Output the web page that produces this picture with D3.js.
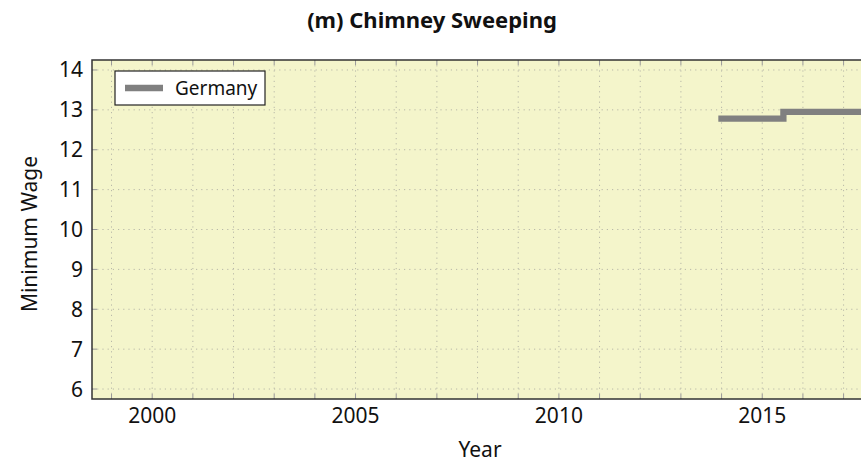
<!DOCTYPE html>
<html>
<head>
<meta charset="utf-8">
<script src="https://cdn.jsdelivr.net/npm/d3@7"></script>
<style>
  body { margin: 0; background: #fff; }
  svg { display: block; overflow: hidden; }
  text { font-family: "Noto Sans", sans-serif; fill: #111; }
</style>
</head>
<body>
<div id="chart"></div>
<script>
// data
const years = [2013.92, 2015.52, 2018.5];
const wages = [12.78, 12.95, 12.95];
const xTicks = [2000, 2005, 2010, 2015];
const yTicks = [6, 7, 8, 9, 10, 11, 12, 13, 14];
const gridYears = d3.range(1999, 2019);
const seriesName = "Germany";

const W = 861, H = 465;
const margin = {top: 60, left: 92, bottom: 399};
const plotRight = 92 + 20 * 40.67;

const svg = d3.select("#chart").append("svg")
  .attr("width", W).attr("height", H);

const x = d3.scaleLinear().domain([1998.52, 2018.52]).range([margin.left, plotRight]);
const y = d3.scaleLinear().domain([5.75, 14.25]).range([margin.bottom, margin.top]);

// background
svg.append("rect")
  .attr("x", margin.left).attr("y", margin.top)
  .attr("width", plotRight - margin.left).attr("height", margin.bottom - margin.top)
  .attr("fill", "#f4f5cb");

// dotted grid
svg.append("g").selectAll("line").data(gridYears).enter().append("line")
  .attr("x1", d => x(d)).attr("x2", d => x(d))
  .attr("y1", margin.top).attr("y2", margin.bottom)
  .attr("stroke", "#b8b8a8").attr("stroke-width", 1).attr("stroke-dasharray", "1.2,4");
svg.append("g").selectAll("line").data(yTicks).enter().append("line")
  .attr("x1", margin.left).attr("x2", plotRight)
  .attr("y1", d => y(d)).attr("y2", d => y(d))
  .attr("stroke", "#b8b8a8").attr("stroke-width", 1).attr("stroke-dasharray", "1.2,4");

// small inward ticks
svg.append("g").selectAll("line").data(gridYears).enter().append("line")
  .attr("x1", d => x(d)).attr("x2", d => x(d))
  .attr("y1", margin.bottom).attr("y2", margin.bottom - 5)
  .attr("stroke", "#999").attr("stroke-width", 1);
svg.append("g").selectAll("line").data(gridYears).enter().append("line")
  .attr("x1", d => x(d)).attr("x2", d => x(d))
  .attr("y1", margin.top).attr("y2", margin.top + 5)
  .attr("stroke", "#999").attr("stroke-width", 1);
svg.append("g").selectAll("line").data(yTicks).enter().append("line")
  .attr("x1", margin.left).attr("x2", margin.left + 5)
  .attr("y1", d => y(d)).attr("y2", d => y(d))
  .attr("stroke", "#999").attr("stroke-width", 1);

// the step line
const pts = years.map((yr, i) => [yr, wages[i]]);
svg.append("path")
  .datum(pts)
  .attr("fill", "none")
  .attr("stroke", "#808080")
  .attr("stroke-width", 6.3)
  .attr("d", d3.line().x(d => x(d[0])).y(d => y(d[1])).curve(d3.curveStepAfter));

// frame
svg.append("rect")
  .attr("x", margin.left).attr("y", margin.top)
  .attr("width", plotRight - margin.left).attr("height", margin.bottom - margin.top)
  .attr("fill", "none").attr("stroke", "#333").attr("stroke-width", 1.5);

// tick labels
svg.append("g").selectAll("text").data(xTicks).enter().append("text")
  .attr("x", d => x(d)).attr("y", 423)
  .attr("text-anchor", "middle").attr("font-size", 21)
  .text(d => d);
svg.append("g").selectAll("text").data(yTicks).enter().append("text")
  .attr("x", 83).attr("y", d => y(d) + 7.5)
  .attr("text-anchor", "end").attr("font-size", 21)
  .text(d => d);

// axis titles
svg.append("text")
  .attr("x", 480).attr("y", 457)
  .attr("text-anchor", "middle").attr("font-size", 21)
  .text("Year");
svg.append("text")
  .attr("transform", "translate(37,234) rotate(-90)")
  .attr("text-anchor", "middle").attr("font-size", 21)
  .text("Minimum Wage");

// title
svg.append("text")
  .attr("x", 432).attr("y", 28)
  .attr("text-anchor", "middle").attr("font-size", 22).attr("font-weight", "bold")
  .text("(m) Chimney Sweeping");

// legend
const lg = svg.append("g");
lg.append("rect")
  .attr("x", 115).attr("y", 71).attr("width", 150).attr("height", 34)
  .attr("fill", "#fff").attr("stroke", "#222").attr("stroke-width", 1.2);
lg.append("line")
  .attr("x1", 125).attr("x2", 163).attr("y1", 88).attr("y2", 88)
  .attr("stroke", "#808080").attr("stroke-width", 6.3);
lg.append("text")
  .attr("x", 175).attr("y", 94.5).attr("font-size", 19)
  .text(seriesName);
</script>
</body>
</html>
